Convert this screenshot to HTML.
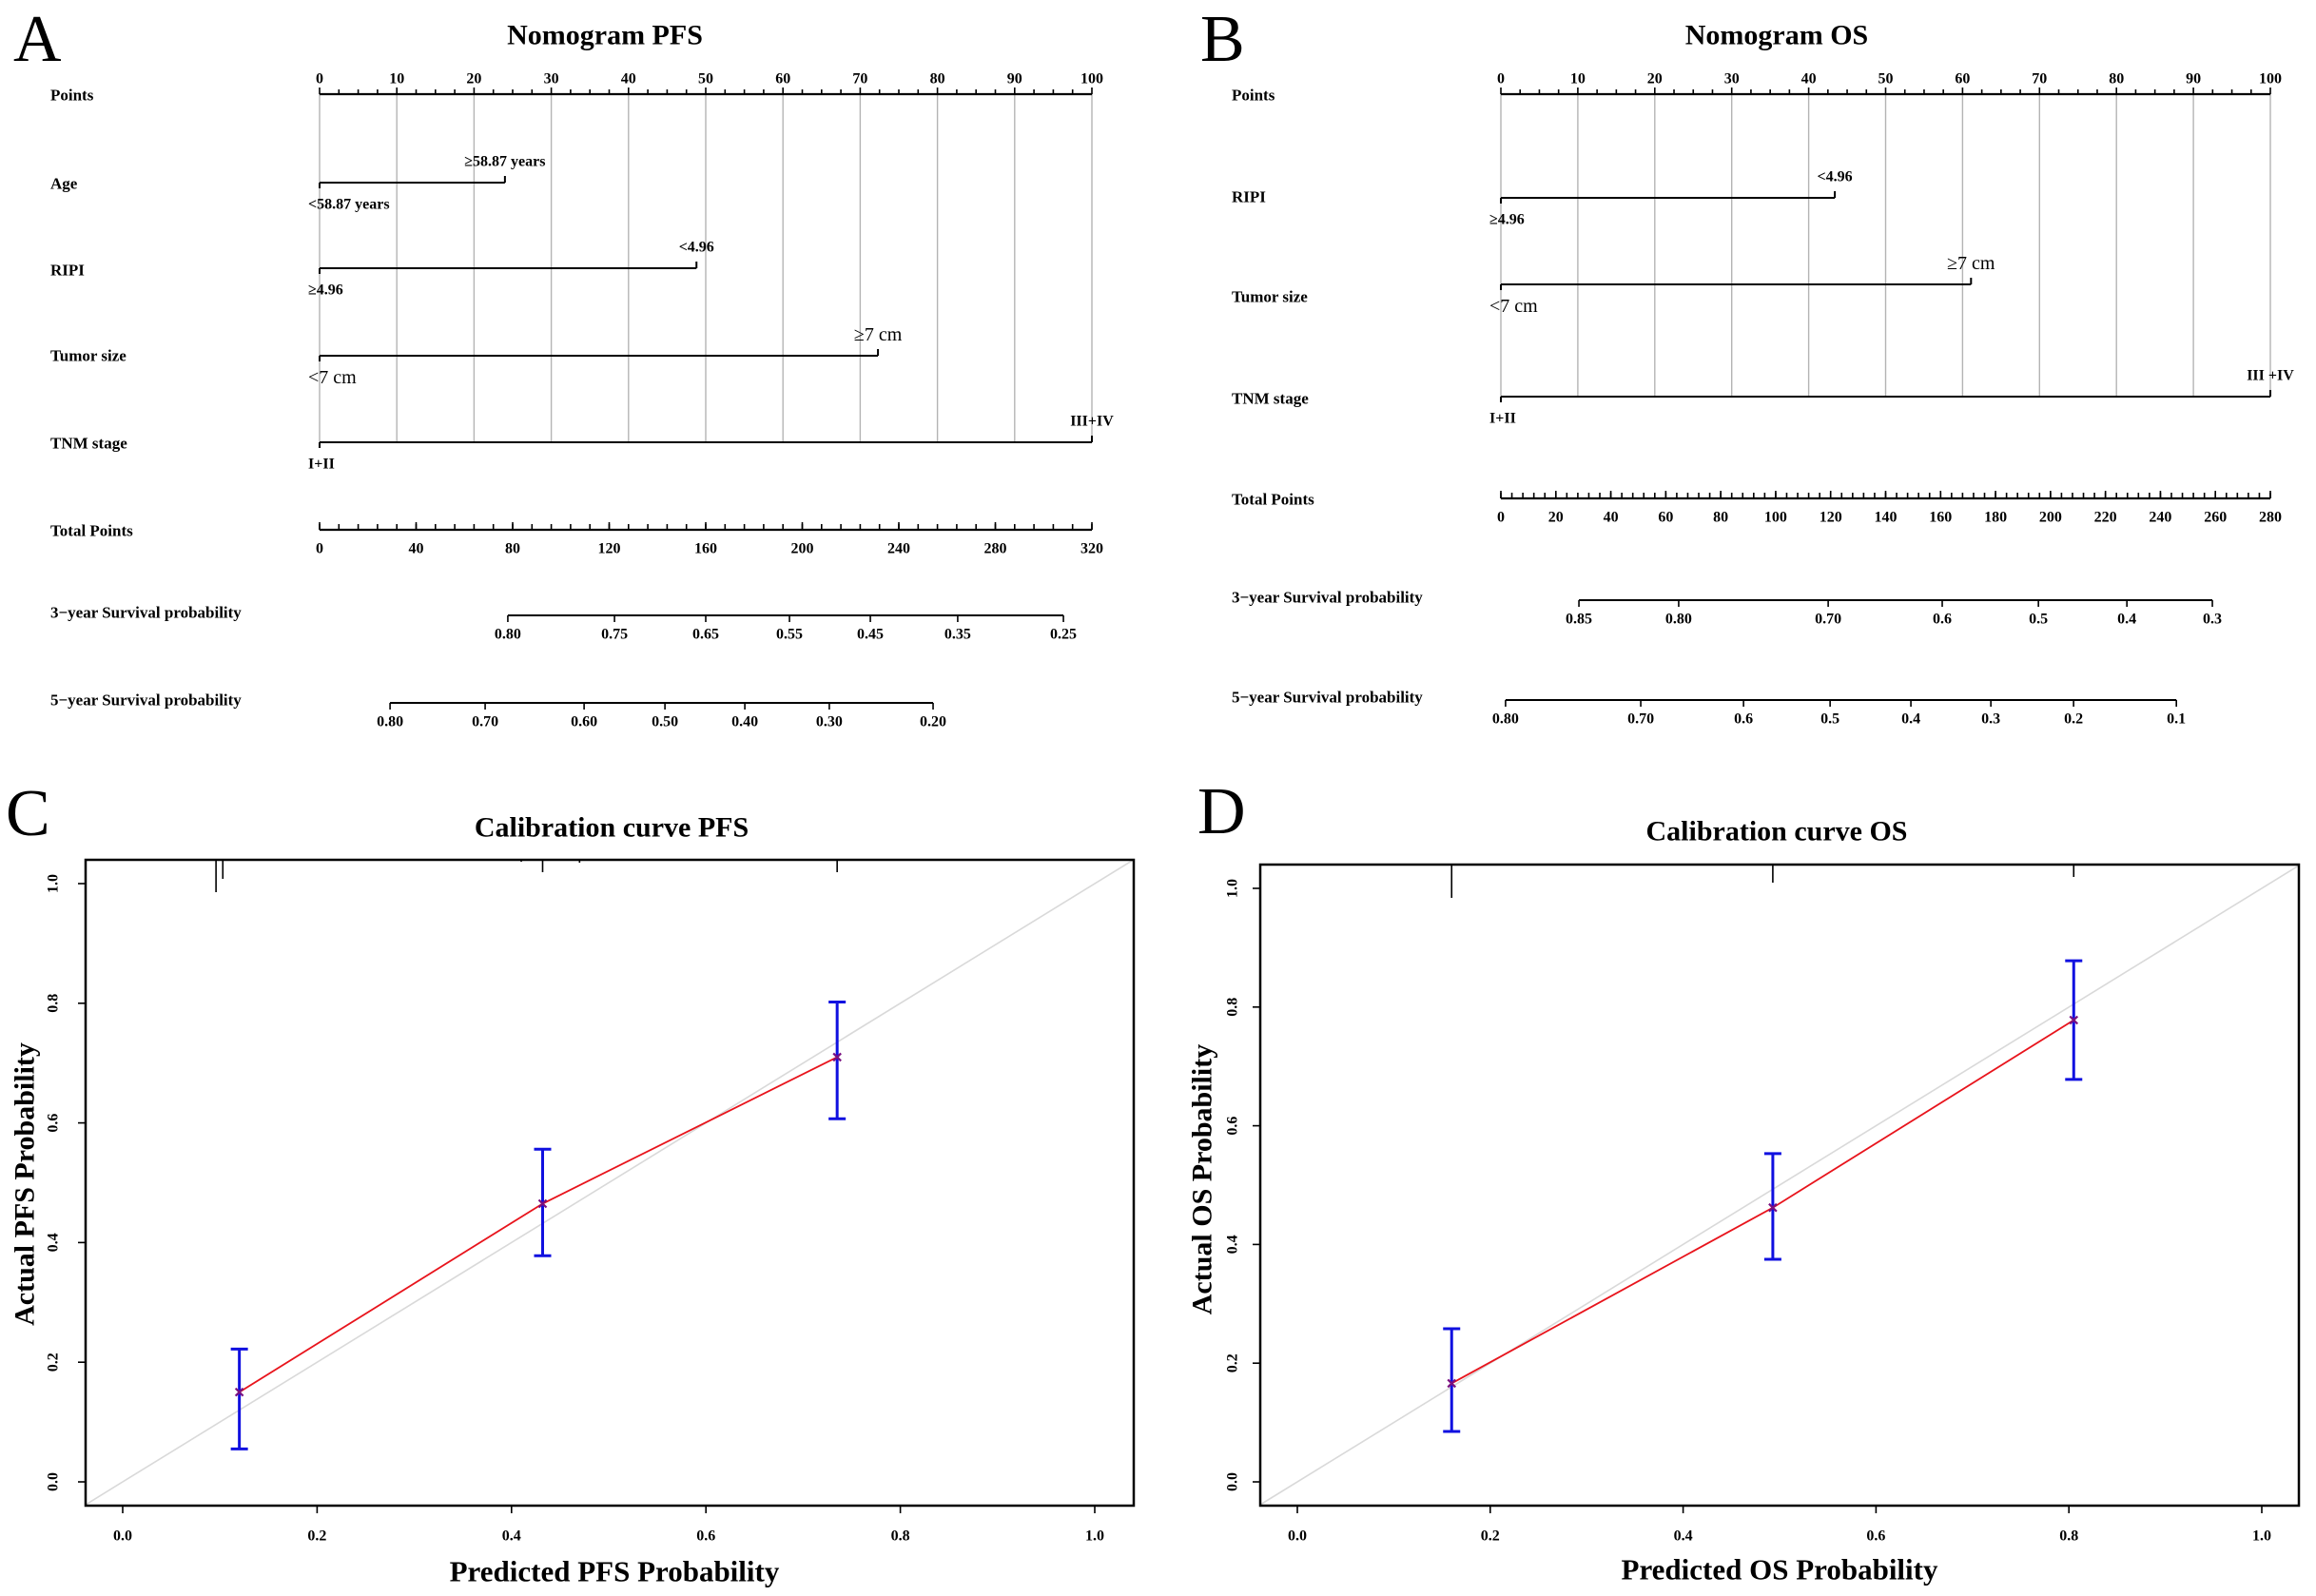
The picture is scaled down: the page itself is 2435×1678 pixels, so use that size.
<!DOCTYPE html>
<html><head><meta charset="utf-8">
<style>
html,body{margin:0;padding:0;background:#fff;}
svg{display:block;}
text{font-family:"Liberation Serif","Times New Roman",serif;fill:#000;}
</style></head>
<body>
<svg id="fig" width="2435" height="1678" viewBox="0 0 2435 1678" xmlns="http://www.w3.org/2000/svg"></svg>
<script>
// ---- Nomogram PFS data ----
const pfsVars = ["Age","RIPI","Tumor size","TNM stage"];
const pfsPoints = [24, 48.8, 72.3, 100];
const pfsLowLabels = ["<58.87 years","≥4.96","<7 cm","I+II"];
const pfsHighLabels = ["≥58.87 years","<4.96","≥7 cm","III+IV"];
const pfsTotalTicks = [0,40,80,120,160,200,240,280,320];
const pfs3yLabels = ["0.80","0.75","0.65","0.55","0.45","0.35","0.25"];
const pfs3yTotals = [78,122.2,160,194.7,228.2,264.4,308.2];
const pfs5yLabels = ["0.80","0.70","0.60","0.50","0.40","0.30","0.20"];
const pfs5yTotals = [29.2,68.6,109.6,143.1,176.2,211.2,254.2];
// ---- Nomogram OS data ----
const osVars = ["RIPI","Tumor size","TNM stage"];
const osPoints = [43.4, 61.1, 100];
const osLowLabels = ["≥4.96","<7 cm","I+II"];
const osHighLabels = ["<4.96","≥7 cm","III +IV"];
const osTotalTicks = [0,20,40,60,80,100,120,140,160,180,200,220,240,260,280];
const os3yLabels = ["0.85","0.80","0.70","0.6","0.5","0.4","0.3"];
const os3yTotals = [28.4,64.7,119.1,160.6,195.6,227.8,258.9];
const os5yLabels = ["0.80","0.70","0.6","0.5","0.4","0.3","0.2","0.1"];
const os5yTotals = [1.7,50.9,88.3,119.8,149.2,178.3,208.4,245.8];
// ---- Calibration PFS ----
const calPfsPred = [0.12, 0.432, 0.735];
const calPfsObs = [0.15, 0.465, 0.71];
const calPfsLo = [0.055, 0.378, 0.607];
const calPfsHi = [0.222, 0.556, 0.802];
const calPfsRug = [0.096, 0.103, 0.41, 0.432, 0.47, 0.735];
// ---- Calibration OS ----
const calOsPred = [0.16, 0.493, 0.805];
const calOsObs = [0.166, 0.462, 0.778];
const calOsLo = [0.085, 0.375, 0.678];
const calOsHi = [0.258, 0.553, 0.878];
const calOsRug = [0.16, 0.493, 0.805];
const calTicks = [0,0.2,0.4,0.6,0.8,1.0];

const NS="http://www.w3.org/2000/svg";
const svg=document.getElementById('fig');
function mk(tag,attrs,parent){const e=document.createElementNS(NS,tag);for(const k in attrs)e.setAttribute(k,attrs[k]);(parent||svg).appendChild(e);return e;}
function txt(s,x,y,size,weight,anchor,parent){const t=mk('text',{x:x,y:y,'font-size':size,'font-weight':weight||'bold','text-anchor':anchor||'start','dominant-baseline':'central'},parent);t.textContent=s;return t;}
function line(x1,y1,x2,y2,stroke,w,parent){return mk('line',{x1:x1,y1:y1,x2:x2,y2:y2,stroke:stroke,'stroke-width':w},parent);}

function nomogram(o){
  const g=mk('g',{});
  
  
  const px=p=>o.x0+(o.x1-o.x0)*p/100;
  const tx=t=>o.x0+(o.x1-o.x0)*t/o.totalMax;
  const t=txt(o.title,o.titleX,37,30,'bold','middle',g);
  
  
  const lastY=o.rowY[o.rowY.length-1];
  for(let p=0;p<=100;p+=10){const l=line(px(p),o.pointsY,px(p),lastY,'#b4b4b4',1.4,g);}
  txt('Points',o.labelX,o.pointsY+1,17,'bold','start',g);
  line(o.x0,o.pointsY,o.x1,o.pointsY,'#000',2.2,g);
  for(let p=0;p<=100;p+=2.5){line(px(p),o.pointsY,px(p),o.pointsY-(p%10===0?7:5),'#000',1.6,g);}
  for(let p=0;p<=100;p+=10){txt(String(p),px(p),o.pointsY-16,16,'bold','middle',g);}
  o.vars.forEach((v,i)=>{
    const y=o.rowY[i];
    const lab=txt(v,o.labelX,o.labelYs[i],17,'bold','start',g);
    
    
    const seg=line(px(0),y,px(o.pts[i]),y,'#000',2,g);
    
    
    line(px(0),y,px(0),y+6,'#000',2,g);
    line(px(o.pts[i]),y,px(o.pts[i]),y-7,'#000',2,g);
    const big=(v==='Tumor size');
    txt(o.low[i],px(0)-12,y+23,big?20:16,big?'normal':'bold','start',g);
    txt(o.high[i],px(o.pts[i]),y-22,big?20:16,big?'normal':'bold','middle',g);
  });
  const ty=o.totalY;
  txt('Total Points',o.labelX,ty+1,17,'bold','start',g);
  line(o.x0,ty,o.x1,ty,'#000',2.2,g);
  const minor=o.totalMinor;
  for(let v=0;v<=o.totalMax+0.001;v+=minor){line(tx(v),ty,tx(v),ty-6,'#000',1.6,g);}
  o.totalTicks.forEach(v=>{line(tx(v),ty,tx(v),ty-8,'#000',1.6,g);txt(String(v),tx(v),ty+20,16,'bold','middle',g);});
  [[o.s3Label,o.s3Y,o.s3Totals,o.s3Labels,'survival-3y-axis'],[o.s5Label,o.s5Y,o.s5Totals,o.s5Labels,'survival-5y-axis']].forEach(a=>{
    const [name,y,tots,labs,dn]=a;
    const ag=mk('g',{},g);
    
    
    txt(name,o.labelX,y-3,17,'bold','start',ag);
    line(tx(tots[0]),y,tx(tots[tots.length-1]),y,'#000',2,ag);
    tots.forEach((v,k)=>{line(tx(v),y,tx(v),y+7,'#000',1.6,ag);txt(labs[k],tx(v),y+20,16,'bold','middle',ag);});
  });
}

nomogram({name:'nomogram-pfs',title:'Nomogram PFS',titleX:636,x0:336,x1:1148,labelX:53,pointsY:99,
  vars:pfsVars,pts:pfsPoints,low:pfsLowLabels,high:pfsHighLabels,
  rowY:[192,282,374,465],labelYs:[193,284,374,466],
  totalY:557,totalMax:320,totalMinor:8,totalTicks:pfsTotalTicks,
  s3Label:'3−year Survival probability',s3Y:647,s3Totals:pfs3yTotals,s3Labels:pfs3yLabels,
  s5Label:'5−year Survival probability',s5Y:739,s5Totals:pfs5yTotals,s5Labels:pfs5yLabels});
nomogram({name:'nomogram-os',title:'Nomogram OS',titleX:1868,x0:1578,x1:2387,labelX:1295,pointsY:99,
  vars:osVars,pts:osPoints,low:osLowLabels,high:osHighLabels,
  rowY:[208,299,417],labelYs:[207,312,419],
  totalY:524,totalMax:280,totalMinor:4,totalTicks:osTotalTicks,
  s3Label:'3−year Survival probability',s3Y:631,s3Totals:os3yTotals,s3Labels:os3yLabels,
  s5Label:'5−year Survival probability',s5Y:736,s5Totals:os5yTotals,s5Labels:os5yLabels});

function calib(o){
  const g=mk('g',{});
  
  
  const X=v=>o.px0+(o.px1-o.px0)*v;
  const Y=v=>o.py0+(o.py1-o.py0)*v;
  const t=txt(o.title,o.titleX,o.titleY,30,'bold','middle',g);
  
  
  const cid='clip-'+o.name;
  const cp=mk('clipPath',{id:cid},g);
  mk('rect',{x:o.bx0,y:o.by0,width:o.bx1-o.bx0,height:o.by1-o.by0},cp);
  const inner=mk('g',{'clip-path':'url(#'+cid+')'},g);
  const d=line(X(-0.1),Y(-0.1),X(1.1),Y(1.1),'#d9d9d9',1.6,inner);
  
  
  o.rug.forEach((v,k)=>{const r=line(X(v),o.by0,X(v),o.by0+o.rugLen[k],'#000',1.6,g);});
  const pts=o.pred.map((p,k)=>X(p)+','+Y(o.obs[k])).join(' ');
  const pl=mk('polyline',{points:pts,fill:'none',stroke:'#e8141c','stroke-width':1.8},g);
  
  
  o.pred.forEach((p,k)=>{
    const eg=mk('g',{},g);
    
    
    line(X(p),Y(o.lo[k]),X(p),Y(o.hi[k]),'#1010e0',3,eg);
    line(X(p)-9,Y(o.lo[k]),X(p)+9,Y(o.lo[k]),'#1010e0',3,eg);
    line(X(p)-9,Y(o.hi[k]),X(p)+9,Y(o.hi[k]),'#1010e0',3,eg);
    const m=mk('g',{},eg);
    
    
    line(X(p)-4,Y(o.obs[k])-4,X(p)+4,Y(o.obs[k])+4,'#7a1080',2.2,m);
    line(X(p)-4,Y(o.obs[k])+4,X(p)+4,Y(o.obs[k])-4,'#7a1080',2.2,m);
  });
  const box=mk('rect',{x:o.bx0,y:o.by0,width:o.bx1-o.bx0,height:o.by1-o.by0,fill:'none',stroke:'#000','stroke-width':2.5},g);
  
  
  calTicks.forEach(v=>{
    line(X(v),o.by1,X(v),o.by1+8,'#000',1.6,g);
    txt(v.toFixed(1),X(v),o.by1+32,16,'bold','middle',g);
    line(o.bx0,Y(v),o.bx0-8,Y(v),'#000',1.6,g);
    const yl=txt(v.toFixed(1),o.ytx,Y(v),16,'bold','middle',g);
    yl.setAttribute('transform','rotate(-90 '+o.ytx+' '+Y(v)+')');
  });
  const xt=txt(o.xTitle,o.xTitleX,o.xTitleY,31,'bold','middle',g);
  
  
  const yt=txt(o.yTitle,o.yTitleX,o.yTitleY,30,'bold','middle',g);
  yt.setAttribute('transform','rotate(-90 '+o.yTitleX+' '+o.yTitleY+')');
  
  
}
calib({name:'calibration-pfs',title:'Calibration curve PFS',titleX:643,titleY:870,
  bx0:90,by0:904,bx1:1192,by1:1583,px0:129,px1:1151,py0:1558,py1:929,
  pred:calPfsPred,obs:calPfsObs,lo:calPfsLo,hi:calPfsHi,rug:calPfsRug,rugLen:[34,20,2,13,3,13],
  ytx:56,xTitle:'Predicted PFS Probability',xTitleX:646,xTitleY:1652,
  yTitle:'Actual PFS Probability',yTitleX:26,yTitleY:1245});
calib({name:'calibration-os',title:'Calibration curve OS',titleX:1868,titleY:874,
  bx0:1325,by0:909,bx1:2417,by1:1583,px0:1364,px1:2378,py0:1558,py1:934,
  pred:calOsPred,obs:calOsObs,lo:calOsLo,hi:calOsHi,rug:calOsRug,rugLen:[35,19,13],
  ytx:1296,xTitle:'Predicted OS Probability',xTitleX:1871,xTitleY:1650,
  yTitle:'Actual OS Probability',yTitleX:1264,yTitleY:1240});

[['A',14,64],['B',1262,64],['C',6,878],['D',1259,876]].forEach(a=>{
  const t=mk('text',{x:a[1],y:a[2],'font-size':70,'font-weight':'normal'});
  t.textContent=a[0];
  
  
});
</script>
</body></html>
